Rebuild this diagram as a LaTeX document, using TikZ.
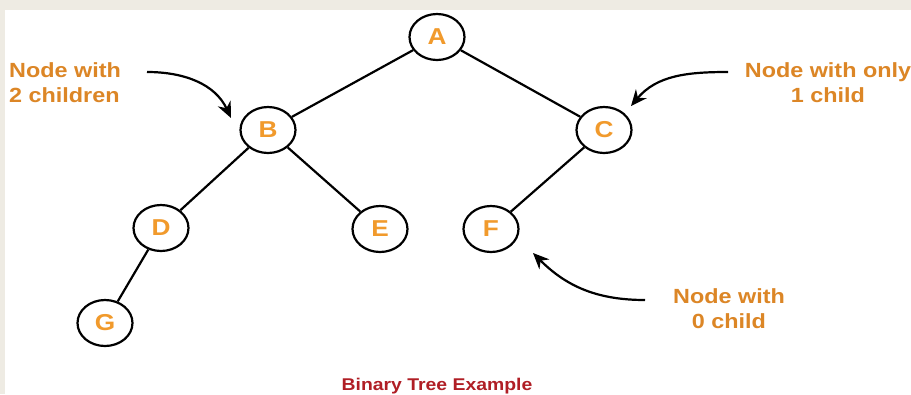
\documentclass[tikz,border=0pt]{standalone}
\usepackage{fontspec}
\setmainfont{Liberation Sans}
\newfontfamily\wideSans[FakeStretch=1.14]{Liberation Sans}
\usetikzlibrary{shapes.geometric, arrows.meta}
\definecolor{paper}{HTML}{EEEBE3}
\definecolor{lblorange}{HTML}{DC8626}
\definecolor{keyorange}{HTML}{F19A2C}
\definecolor{titlered}{HTML}{B01E25}
\begin{document}
\begin{tikzpicture}[x=1pt, y=-1pt,
    treenode/.style={ellipse, draw=black, line width=2.2pt, fill=white,
        minimum width=55pt, minimum height=46pt, inner sep=0pt,
        text=keyorange, font=\wideSans\bfseries\fontsize{23}{23}\selectfont},
    treeedge/.style={line width=2.2pt, black},
    notelabel/.style={text=lblorange, align=center, inner sep=0pt,
        font=\wideSans\bfseries\fontsize{20.5}{25}\selectfont},
    pointer/.style={line width=2.2pt, -{Stealth[length=16pt, width=14pt]}}]
    % Frame: beige page with a white sheet
    \useasboundingbox (0,0) rectangle (911,394);
    \fill[paper] (0,0) rectangle (911,394);
    \fill[white] (5,10) rectangle (911,394);

    % Tree nodes
    \node[treenode] (A) at (437, 37) {A};
    \node[treenode] (B) at (268,130) {B};
    \node[treenode] (C) at (604,130) {C};
    \node[treenode] (D) at (161,228) {D};
    \node[treenode] (E) at (380,229) {E};
    \node[treenode] (F) at (491,229) {F};
    \node[treenode] (G) at (105,323) {G};

    % Edges
    \draw[treeedge] (A) -- (B);
    \draw[treeedge] (A) -- (C);
    \draw[treeedge] (B) -- (D);
    \draw[treeedge] (B) -- (E);
    \draw[treeedge] (C) -- (F);
    \draw[treeedge] (D) -- (G);

    % Notes
    \node[notelabel, align=left, anchor=west] (twoKids) at (9, 83) {Node with\\2 children};
    \node[notelabel] (oneKid) at (828, 83) {Node with only\\1 child};
    \node[notelabel] (noKid) at (729, 309) {Node with\\0 child};

    % Pointers
    \coordinate (twoStart) at (147, 72);
    \coordinate (twoTip) at (231, 118);
    \coordinate (oneStart) at (728, 72);
    \coordinate (oneTip) at (631, 106);
    \coordinate (noStart) at (645, 300);
    \coordinate (noTip) at (533, 253);
    \draw[pointer] (twoStart) to[out=0, in=115] (twoTip);
    \draw[pointer] (oneStart) to[out=180, in=50] (oneTip);
    \draw[pointer] (noStart) to[out=180, in=-45] (noTip);

    % Title
    \node[text=titlered, font=\wideSans\bfseries\fontsize{17}{17}\selectfont] (title) at (437, 386) {Binary Tree Example};
\end{tikzpicture}
\end{document}
